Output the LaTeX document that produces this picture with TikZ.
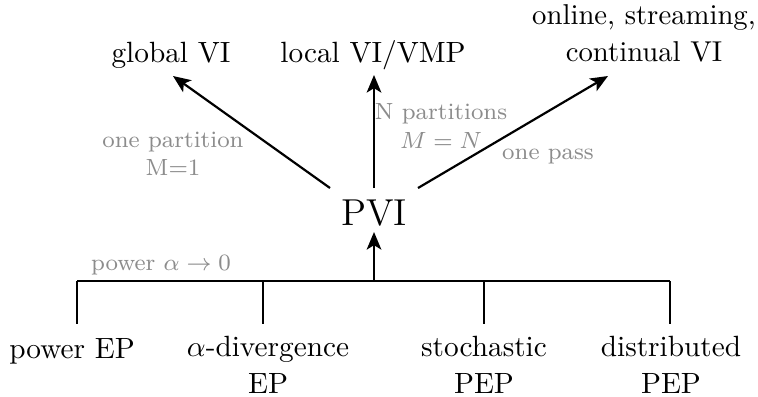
\documentclass[tikz,border=0pt]{standalone}
\usetikzlibrary{arrows.meta}
\begin{document}
\begin{tikzpicture}[x=0.3413pt,y=-0.3413pt,
  lbl/.style={font=\fontsize{10}{12.3}\selectfont, align=center, inner sep=0pt},
  glbl/.style={font=\fontsize{8}{9.6}\selectfont, text=black!45, align=center, inner sep=0pt},
  conn/.style={line width=0.75pt},
  arr/.style={conn, -{Stealth[length=6pt,width=5pt,inset=1.5pt]}}]
\useasboundingbox (0,0) rectangle (758,396);
% top nodes
\node[lbl, anchor=base] (gvi) at (171,62) {global VI};
\node[lbl, anchor=base] (lvi) at (373,62) {local VI/VMP};
\node[lbl, font=\fontsize{9.8}{12.3}\selectfont, anchor=base] (onl) at (644,61) {online, streaming,\\continual VI};
\node[font=\fontsize{12.8}{15}\selectfont, inner sep=0pt] (pvi) at (374,213) {PVI};
% arrow ends
\coordinate (t1) at (330,188);
\coordinate (h1) at (173,76);
\coordinate (t2) at (374,188);
\coordinate (h2) at (374,75);
\coordinate (t3) at (418,188);
\coordinate (h3) at (608,76);
\draw[arr] (t1) -- (h1);
\draw[arr] (t2) -- (h2);
\draw[arr] (t3) -- (h3);
% gray labels
\node[glbl] (l1) at (173,154) {one partition\\M=1};
\node[glbl] (l2) at (441,126) {N partitions\\$M=N$};
\node[glbl] (l3) at (548,157) {one pass};
\node[glbl, anchor=base] (l4) at (161,270) {power $\alpha\rightarrow0$};
% bus
\coordinate (bl) at (77,281);
\coordinate (br) at (670,281);
\coordinate (bm) at (374,281);
\coordinate (pb) at (374,232);
\draw[conn] (bl) -- (br);
\draw[arr] (bm) -- (pb);
% bottom nodes
\node[lbl, anchor=base] (pep) at (72,358) {power EP};
\node[lbl, anchor=base] (adiv) at (268,393) {$\alpha$-divergence\\EP};
\node[lbl, anchor=base] (sto) at (484,393) {stochastic\\PEP};
\node[lbl, anchor=base] (dis) at (671,393) {distributed\\PEP};
\coordinate (d1) at (77,324);
\coordinate (d2) at (263,324);
\coordinate (d3) at (484,324);
\coordinate (d4) at (670,324);
\draw[conn] (bl) -- (d1);
\draw[conn] (bl -| d2) -- (d2);
\draw[conn] (bl -| d3) -- (d3);
\draw[conn] (br) -- (d4);
\end{tikzpicture}
\end{document}
